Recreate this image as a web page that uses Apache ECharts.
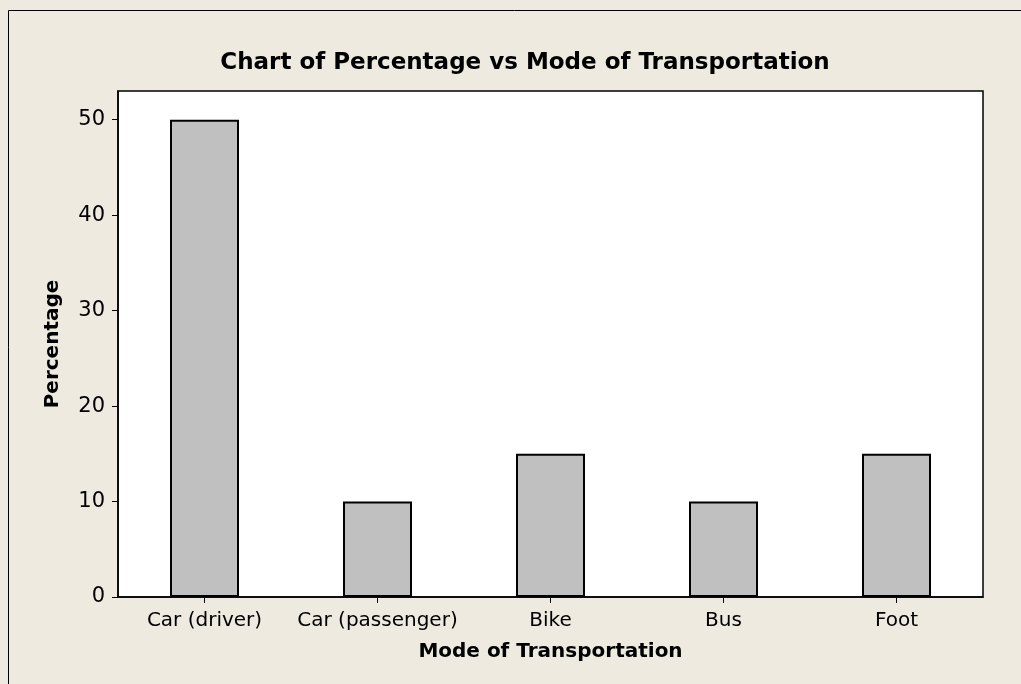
<!DOCTYPE html>
<html><head><meta charset="utf-8">
<script src="https://cdn.jsdelivr.net/npm/echarts@6/dist/echarts.min.js"></script>
<style>html,body{margin:0;padding:0;background:#EEEAE0;}#c{width:1021px;height:684px;}</style>
</head><body><div id="c"></div>
<script>
const categories = ["Car (driver)", "Car (passenger)", "Bike", "Bus", "Foot"];
const percentages = [50, 10, 15, 10, 15];
const yTicks = [0, 10, 20, 30, 40, 50];

const chart = echarts.init(document.getElementById('c'));
const font = "DejaVu Sans";
chart.setOption({
  backgroundColor: '#EEEAE0',
  animation: false,
  title: {
    text: 'Chart of Percentage vs Mode of Transportation',
    left: 520, top: 47, textAlign: 'center',
    textStyle: {fontFamily: font, fontWeight: 'bold', fontSize: 23, color: '#000'}
  },
  graphic: [
    {type: 'line', shape: {x1: 8.5, y1: 10.5, x2: 1021, y2: 10.5}, style: {stroke: '#000', lineWidth: 1}},
    {type: 'line', shape: {x1: 8.5, y1: 10.5, x2: 8.5, y2: 684}, style: {stroke: '#000', lineWidth: 1}}
  ],
  grid: {left: 118, top: 91, width: 865, height: 506, show: true, backgroundColor: '#fff', borderColor: '#000', borderWidth: 1.5},
  xAxis: {
    type: 'category', data: categories, boundaryGap: true,
    name: 'Mode of Transportation', nameLocation: 'middle', nameGap: 45,
    nameTextStyle: {fontFamily: font, fontWeight: 'bold', fontSize: 20, color: '#000'},
    axisLine: {show: true, lineStyle: {color: '#000', width: 1.5}},
    axisTick: {show: true, alignWithLabel: true, length: 6, lineStyle: {color: '#000'}},
    axisLabel: {fontFamily: font, fontSize: 20, color: '#000', margin: 14, interval: 0},
    splitLine: {show: false}
  },
  yAxis: {
    type: 'value', min: 0, max: 53, interval: 10,
    name: 'Percentage', nameLocation: 'middle', nameGap: 55,
    nameTextStyle: {fontFamily: font, fontWeight: 'bold', fontSize: 20, color: '#000'},
    axisLine: {show: true, lineStyle: {color: '#000', width: 1.5}},
    axisTick: {show: true, length: 6, customValues: yTicks, lineStyle: {color: '#000'}},
    axisLabel: {fontFamily: font, fontSize: 21, color: '#000', margin: 13, customValues: yTicks},
    splitLine: {show: false}
  },
  series: [{
    type: 'bar', data: percentages, barWidth: 69,
    itemStyle: {color: '#C0C0C0', borderColor: '#000', borderWidth: 2}
  }]
});
</script></body></html>
